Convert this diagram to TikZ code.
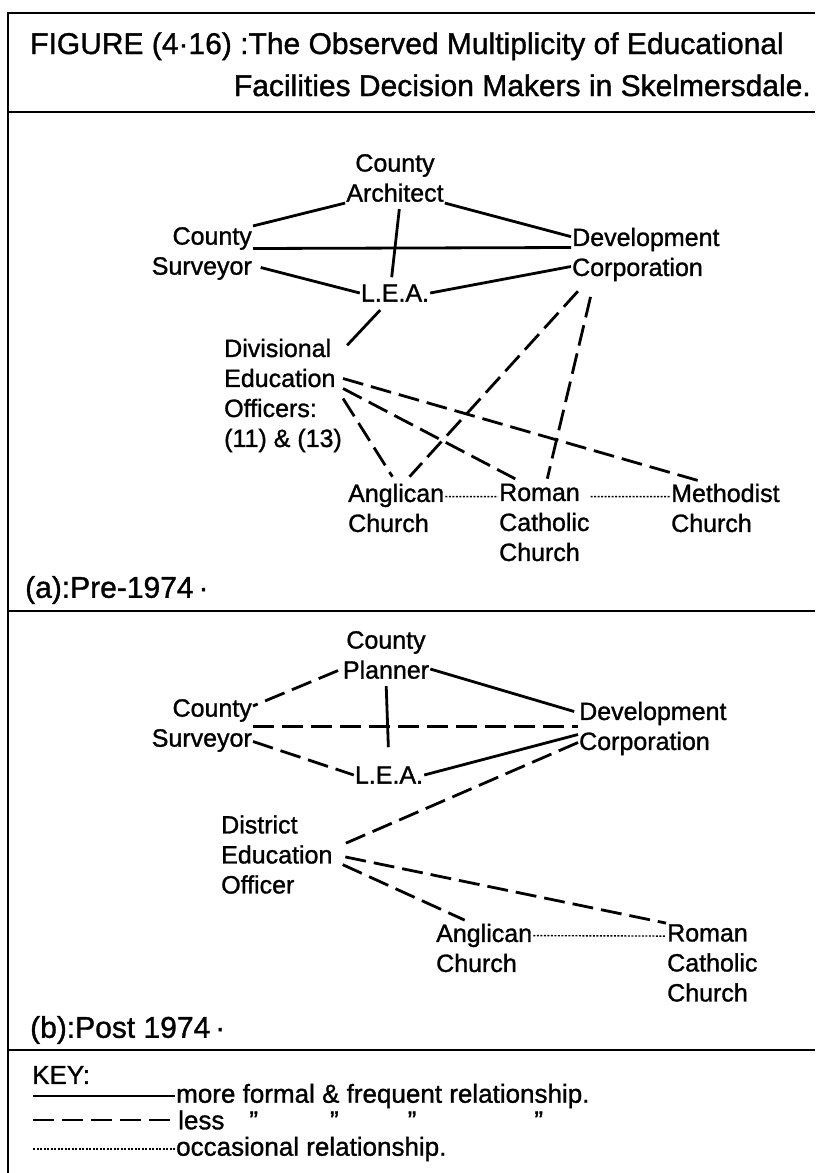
\documentclass[tikz,border=0pt]{standalone}
\usepackage{fontspec}
\setmainfont{Liberation Sans}[FakeBold=1.2]
\usepackage{tikz}

\begin{document}
\begin{tikzpicture}[x=1pt, y=-1pt,
  actor/.style={inner sep=1pt, font=\fontsize{25}{30}\selectfont},
  headtext/.style={inner sep=0pt, font=\fontsize{30}{36}\selectfont},
  keytext/.style={inner sep=1pt, font=\fontsize{26}{30}\selectfont},
  boxline/.style={line width=2.2pt},
  formal/.style={line width=2.8pt},
  less/.style={line width=2.8pt, dash pattern=on 21pt off 8pt},
  occasional/.style={line width=1.4pt, dash pattern=on 2pt off 1.5pt}]

\useasboundingbox (0,0) rectangle (815,1173);

% Outer frame and the dividing rules
\draw[boxline] (8,1173) -- (8,13) -- (815,13);
\foreach \ypos in {112,611,1050}
  \draw[boxline] (8,\ypos) -- (815,\ypos);

% Title
\node[headtext, anchor=base west] (title1) at (30,54) {FIGURE (4·16) :The Observed Multiplicity of Educational};
\node[headtext, anchor=base east] (title2) at (811,96) {Facilities Decision Makers in Skelmersdale.};

% (a) Pre-1974 decision makers
\node[actor, align=center] (arch) at (395,178) {County\\Architect};
\node[actor, align=right, anchor=east] (surv) at (253,253.5) {County\\Surveyor};
\node[actor, align=left, anchor=west] (dev) at (571,254.5) {Development\\Corporation};
\node[actor] (lea) at (395,293) {L.E.A.};
\node[actor, align=left, anchor=west] (div) at (223,395.5) {Divisional\\Education\\Officers:\\(11) \& (13)};
\node[actor, align=left, anchor=west] (angl) at (347,508) {Anglican\\Church};
\node[actor, align=left, anchor=west] (rc) at (498,522.5) {Roman\\Catholic\\Church};
\node[actor, align=left, anchor=west] (meth) at (670,508) {Methodist\\Church};
\node[headtext, anchor=west] (pre) at (25,590) {(a):Pre-1974\,·};

% (a) more formal & frequent relationships
\draw[formal] (surv.north east) -- (arch.south west);
\draw[formal] (arch.south east) -- ([yshift=-10pt]dev.north west);
\draw[formal, shorten <=6pt, shorten >=6pt] ([xshift=5pt]arch.south) -- ([xshift=-4pt]lea.north);
\draw[formal] ([yshift=5pt]surv.east) -- ([yshift=7pt]dev.west);
\draw[formal, shorten <=8pt] ([yshift=-12pt]surv.east) -- (lea.west);
\draw[formal] (lea.east) -- ([yshift=-12pt]dev.west);
\draw[formal, shorten <=10pt, shorten >=6pt] ([xshift=-8pt]lea.south) -- ([yshift=-12pt]div.north east);

% (a) less formal relationships
\draw[less, shorten >=8pt] ([yshift=17pt]div.east) -- ([xshift=-20pt]meth.north);
\draw[less, shorten >=8pt] ([yshift=7pt]div.east) -- ([xshift=-22pt]rc.north);
\draw[less, shorten >=7pt] ([yshift=-3pt]div.east) -- (angl.north);
\draw[less, shorten <=12pt, shorten >=8pt] ([xshift=15pt]dev.south west) -- ([xshift=8pt]angl.north);
\draw[less, shorten <=15pt, shorten >=4pt] ([xshift=23pt]dev.south west) -- ([xshift=2pt]rc.north);

% (a) occasional relationships
\draw[occasional] ([yshift=-14pt]angl.north east) -- ([yshift=-14pt]rc.north west);
\draw[occasional] ([yshift=-14pt]rc.north east) -- ([yshift=-14pt]meth.north west);

% (b) Post 1974 decision makers
\node[actor, align=center] (plan) at (386,655) {County\\Planner};
\node[actor, align=right, anchor=east] (surv2) at (253,725.5) {County\\Surveyor};
\node[actor, align=left, anchor=west] (dev2) at (578,728.5) {Development\\Corporation};
\node[actor] (lea2) at (389,775) {L.E.A.};
\node[actor, align=left, anchor=west] (dist) at (220,854.5) {District\\Education\\Officer};
\node[actor, align=left, anchor=west] (angl2) at (435,948) {Anglican\\Church};
\node[actor, align=left, anchor=west] (rc2) at (666,963) {Roman\\Catholic\\Church};
\node[headtext, anchor=west] (post) at (30,1030) {(b):Post 1974\,·};

% (b) more formal & frequent relationships
\draw[formal, shorten >=4pt] ([yshift=-14pt]plan.east) -- ([yshift=-12pt]dev2.north west);
\draw[formal, shorten <=6pt, shorten >=18pt] (plan.south) -- (lea2.north);
\draw[formal] (lea2.east) -- ([yshift=-6pt]dev2.west);

% (b) less formal relationships
\draw[less, shorten <=4pt] ([yshift=-14pt]plan.west) -- ([yshift=-8pt]surv2.north east);
\draw[less] ([yshift=-1pt]surv2.east) -- ([yshift=2pt]dev2.west);
\draw[less] ([yshift=-16pt]surv2.east) -- (lea2.west);
\draw[less, shorten >=10pt] ([yshift=-14pt]dev2.west) -- ([yshift=6pt]dist.east);
\draw[less, shorten <=10pt, shorten >=6pt] ([yshift=-6pt]dist.east) -- ([xshift=-14pt]angl2.north);
\draw[less, shorten <=12pt] (dist.east) -- (rc2.north west);

% (b) occasional relationship
\draw[occasional] ([yshift=-13pt]angl2.north east) -- ([yshift=-13pt]rc2.north west);

% Key
\node[keytext, anchor=west] (keyhead) at (31,1075) {KEY:};
\coordinate (kfstart) at (33,1096);
\node[keytext, anchor=west] (kformal) at (175,1096) {more formal \& frequent relationship.};
\draw[formal] (kfstart) -- (kformal.west);
\coordinate (klstart) at (33,1120);
\node[keytext, anchor=west] (kless) at (177,1120) {less\hspace{25pt}”\hspace{72pt}”\hspace{69pt}”\hspace{118pt}”};
\draw[less] (klstart) -- (kless.west);
\coordinate (kostart) at (33,1149);
\node[keytext, anchor=west] (kocc) at (175,1149) {occasional relationship.};
\draw[occasional] (kostart) -- (kocc.west);

\end{tikzpicture}
\end{document}
